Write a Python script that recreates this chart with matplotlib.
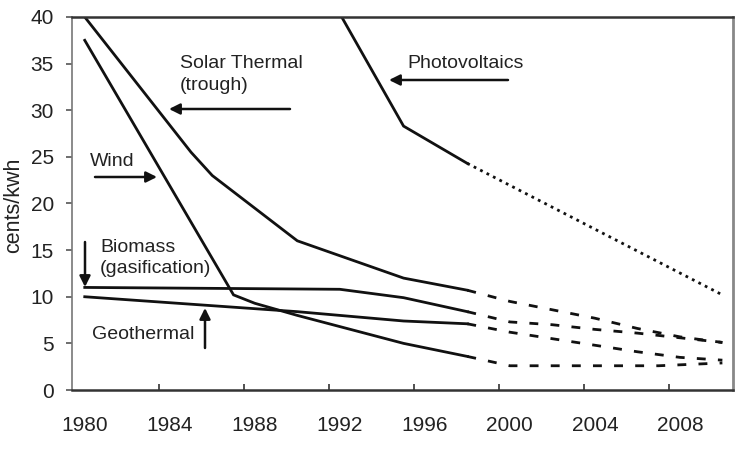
import matplotlib
matplotlib.use("Agg")
import matplotlib.pyplot as plt

plt.rcParams['font.family'] = ['Liberation Sans', 'DejaVu Sans']

# ---- data (cents/kWh) ----
pv_years = [1990, 1995, 1998]
pv = [48.4, 28.3, 24.3]
pv_proj_years = [1998, 2010]
pv_proj = [24.3, 10.2]

st_years = [1980, 1985, 1986, 1990, 1995, 1998]
st = [40.0, 25.5, 23.0, 16.0, 12.0, 10.7]
st_proj_years = [1998, 2000, 2002, 2004, 2006, 2008, 2010]
st_proj = [10.7, 9.5, 8.6, 7.7, 6.6, 5.7, 5.1]

wind_years = [1980, 1987, 1988, 1990, 1995, 1998]
wind = [37.5, 10.2, 9.3, 8.0, 5.0, 3.6]
wind_proj_years = [1998, 2000, 2007, 2010]
wind_proj = [3.6, 2.6, 2.6, 2.9]

bio_years = [1980, 1992, 1995, 1998]
bio = [11.0, 10.8, 9.9, 8.4]
bio_proj_years = [1998, 2000, 2002, 2004, 2006, 2008, 2010]
bio_proj = [8.4, 7.3, 7.0, 6.5, 6.1, 5.6, 5.1]

geo_years = [1980, 1985, 1990, 1995, 1998]
geo = [10.0, 9.2, 8.4, 7.4, 7.1]
geo_proj_years = [1998, 2000, 2002, 2004, 2006, 2008, 2010]
geo_proj = [7.1, 6.2, 5.5, 4.8, 4.1, 3.5, 3.2]

x_labels = ['1980', '1984', '1988', '1992', '1996', '2000', '2004', '2008']
y_ticks = [0, 5, 10, 15, 20, 25, 30, 35, 40]

W, H = 744, 467
fig = plt.figure(figsize=(W / 100, H / 100), dpi=100)
ax = fig.add_axes([72 / W, 1 - 390 / H, (733 - 72) / W, (390 - 17) / H])

LC = '#111111'
LW = 2.0
dash = (0, (3.2, 4.4))
dot = (0, (1.0, 1.6))

for yrs, vals in [(st_years, st), (wind_years, wind), (bio_years, bio),
                  (geo_years, geo), (pv_years, pv)]:
    ax.plot(yrs, vals, color=LC, lw=LW, solid_joinstyle='miter', clip_on=True)
for yrs, vals in [(st_proj_years, st_proj), (wind_proj_years, wind_proj),
                  (bio_proj_years, bio_proj), (geo_proj_years, geo_proj)]:
    ax.plot(yrs, vals, color=LC, lw=LW, linestyle=dash, dash_capstyle='butt')
ax.plot(pv_proj_years, pv_proj, color=LC, lw=LW, linestyle=dot)

ax.set_xlim(1979.4, 2010.5)
ax.set_ylim(0, 40)

ax.set_xticks([int(s) for s in x_labels])
ax.set_xticklabels(x_labels)
ax.set_xticks([int(s) - 0.5 for s in x_labels[1:]], minor=True)
ax.tick_params(axis='x', which='major', length=0, pad=19, labelsize=15, labelcolor='#222222')
ax.tick_params(axis='x', which='minor', direction='in', length=4, width=1.2, color='#333333')
ax.set_yticks(y_ticks)
ax.tick_params(axis='y', direction='out', length=4, width=1.2, color='#555555',
               pad=9, labelsize=15, labelcolor='#222222')

ax.spines['top'].set_color('#333333')
ax.spines['top'].set_linewidth(1.8)
ax.spines['bottom'].set_color('#333333')
ax.spines['bottom'].set_linewidth(1.8)
ax.spines['left'].set_color('#777777')
ax.spines['left'].set_linewidth(1.2)
ax.spines['right'].set_color('#888888')
ax.spines['right'].set_linewidth(2.0)

fig.text(14 / W, 1 - 205 / H, 'cents/kwh', rotation=90, ha='center', va='center',
         fontsize=15.5, color='#222222')

TC = '#222222'
FS = 14


def ftxt(x, y, s):
    fig.text(x / W, 1 - y / H, s, ha='left', va='baseline', fontsize=FS, color=TC)


def farrow(x0, y0, x1, y1):
    ax.annotate('', xy=(x1, H - y1), xycoords='figure pixels',
                xytext=(x0, H - y0), textcoords='figure pixels',
                arrowprops=dict(arrowstyle='-|>', lw=1.8, color=LC,
                                mutation_scale=16, shrinkA=0, shrinkB=0))


ftxt(180, 68, 'Solar Thermal')
ftxt(180, 90, '(trough)')
farrow(290, 109, 169, 109)

ftxt(407, 68, 'Photovoltaics')
farrow(508, 80, 389, 80)

ftxt(90, 166, 'Wind')
farrow(95, 177, 157, 177)

ftxt(100, 252, 'Biomass')
ftxt(100, 273, '(gasification)')
farrow(85, 242, 85, 287)

ftxt(92, 339, 'Geothermal')
farrow(205, 348, 205, 308)

fig.savefig('out.png', dpi=100)
